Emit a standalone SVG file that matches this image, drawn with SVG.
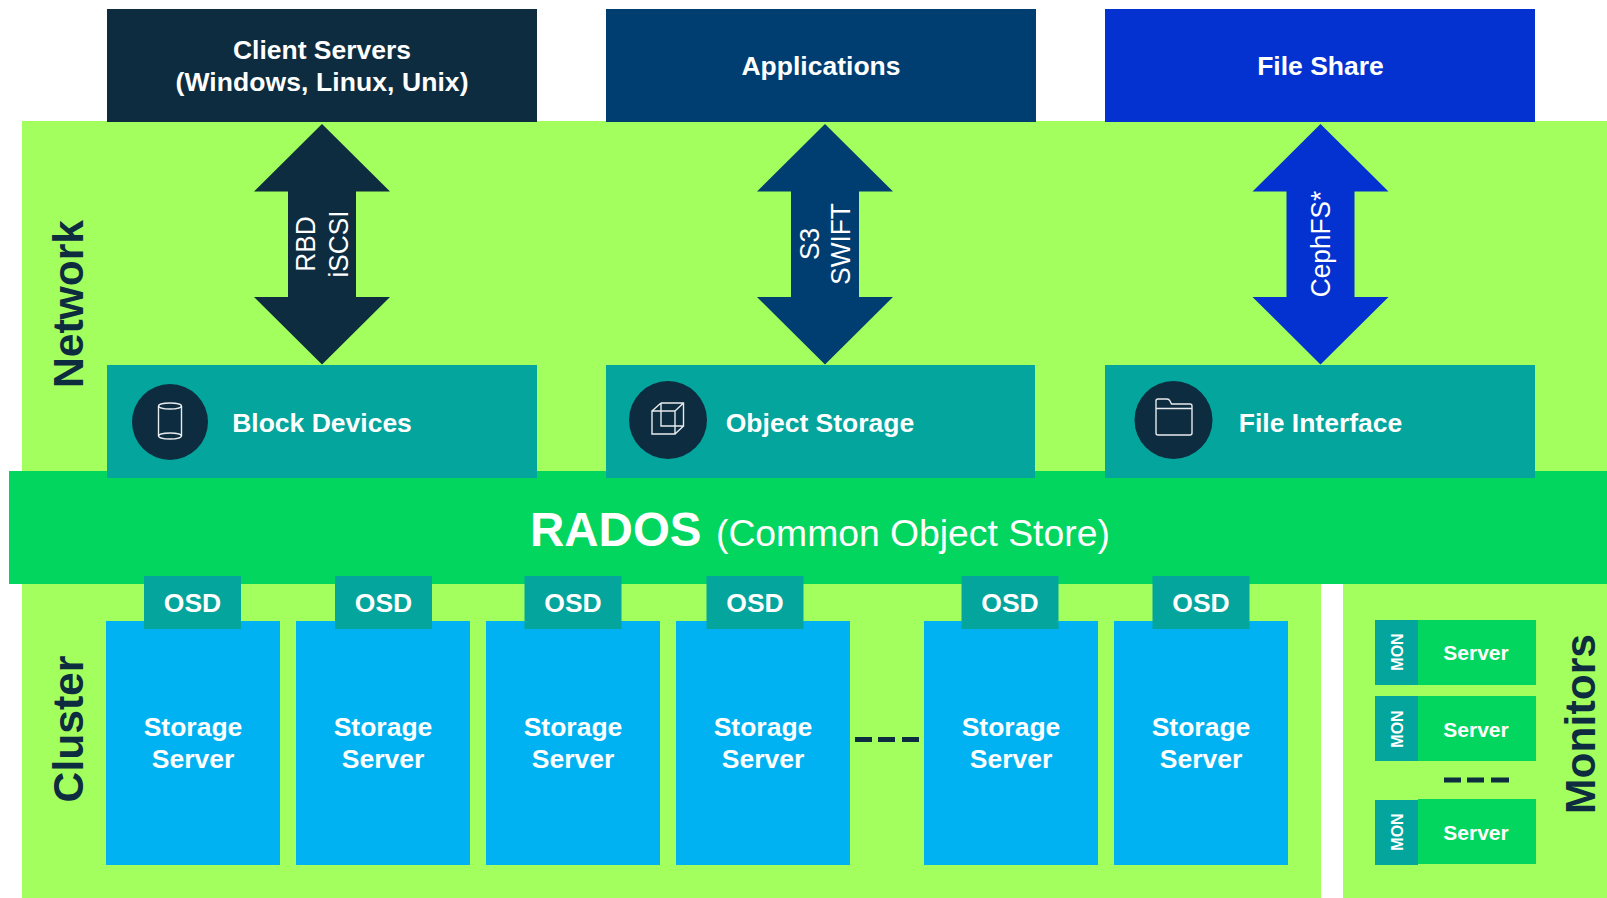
<svg xmlns="http://www.w3.org/2000/svg" width="1607" height="898" viewBox="0 0 1607 898">
<style>
text{font-family:"Liberation Sans",Arial,sans-serif;fill:#fff}
.b{font-weight:700}
.t{font-size:26.500px;font-weight:700;text-anchor:middle}
.side{font-size:42.600px;font-weight:700;fill:#0d2c40;text-anchor:middle}
.osd{fill:#03a59d}
.ss{fill:#00b2f2}
.srv{fill:#02d65e}
.ic{fill:none;stroke:#fff;stroke-width:1.400;stroke-opacity:.9}
.ctr{font-size:26.200px;text-anchor:middle}
.dash{stroke:#0d2c40;stroke-width:5;fill:none}
</style>
<defs>
<path id="arrow" d="M0 124L68 191.500H34V297H68L0 364.500L-68 297H-34V191.500H-68Z"/>
<g id="osdbox"><rect x="-48.500" y="576" width="97" height="53" class="osd"/><text class="t" y="612">OSD</text></g>
<g id="storage"><rect x="0" y="621" width="174" height="244" class="ss"/><text class="t" x="87" y="736">Storage</text><text class="t" x="87" y="768">Server</text></g>
</defs>
<g id="bands">
<rect x="22" y="121" width="1585" height="360" fill="#a2ff5d"/>
<rect x="22" y="580" width="1299" height="318" fill="#a2ff5d"/>
<rect x="1343" y="580" width="264" height="318" fill="#a2ff5d"/>
</g>
<g id="connectors">
<use href="#arrow" x="322" fill="#0d2c40"/>
<use href="#arrow" x="825" fill="#003e71"/>
<use href="#arrow" x="1320.500" fill="#0332d1"/>
</g>
<g id="client-servers"><rect x="107" y="9" width="430" height="113" fill="#0d2c40"/><text class="t" x="322" y="59">Client Servers</text><text class="t" x="322" y="91" textLength="293">(Windows, Linux, Unix)</text></g>
<g id="applications"><rect x="606" y="9" width="430" height="113" fill="#003e71"/><text class="t" x="821" y="75">Applications</text></g>
<g id="file-share"><rect x="1105" y="9" width="430" height="113" fill="#0332d1"/><text class="t" x="1320.500" y="75">File Share</text></g>
<g id="arrow-labels">
<text class="ctr" transform="translate(315 244) rotate(-90) scale(1 1.06)">RBD</text>
<text class="ctr" transform="translate(348 244) rotate(-90) scale(1 1.06)">iSCSI</text>
<text class="ctr" transform="translate(819 244) rotate(-90) scale(1 1.06)">S3</text>
<text class="ctr" transform="translate(850 244) rotate(-90) scale(1 1.06)">SWIFT</text>
<text class="ctr" transform="translate(1330 244) rotate(-90) scale(1 1.06)">CephFS*</text>
</g>
<g id="network-label"><text class="side" transform="translate(83 304) rotate(-90)">Network</text></g>
<g id="rados"><rect x="9" y="471" width="1598" height="113" fill="#02d65e"/>
<text x="530" y="546" font-size="47.500" font-weight="700">RADOS</text><text x="716" y="546" font-size="37.300">(Common Object Store)</text></g>
<g id="block-devices"><rect x="107" y="365" width="430" height="113" class="osd"/><circle cx="170" cy="422" r="38" fill="#0d2c40"/>
<g class="ic"><ellipse cx="170" cy="406" rx="11.500" ry="3"/><ellipse cx="170" cy="436" rx="11.500" ry="3"/><path d="M158.500 406V436M181.500 406V436"/></g>
<text class="t" x="322" y="432">Block Devices</text></g>
<g id="object-storage"><rect x="606" y="365" width="429" height="113" class="osd"/><circle cx="668" cy="420" r="39" fill="#0d2c40"/>
<g class="ic"><path d="M652 411H675V434H652ZM661 403H683.500V426H675M661 403V426H675M652 411L661 403M675 411L683.500 403M675 434L683.500 426"/></g>
<text class="t" x="820" y="432">Object Storage</text></g>
<g id="file-interface"><rect x="1105" y="365" width="430" height="113" class="osd"/><circle cx="1173.500" cy="420" r="39" fill="#0d2c40"/>
<g class="ic"><path d="M1156 433V401Q1156 399 1158 399H1167Q1169 399 1170 401L1171.500 404H1190Q1192 404 1192 406V433Q1192 435 1190 435H1158Q1156 435 1156 433ZM1156 408.500H1192"/></g>
<text class="t" x="1320.500" y="432">File Interface</text></g>
<g id="storage-servers">
<use href="#storage" x="106"/><use href="#storage" x="296"/><use href="#storage" x="486"/><use href="#storage" x="676"/><use href="#storage" x="924"/><use href="#storage" x="1114"/>
</g>
<g id="osds">
<use href="#osdbox" x="192.500"/><use href="#osdbox" x="383.500"/><use href="#osdbox" x="573"/><use href="#osdbox" x="755"/><use href="#osdbox" x="1010"/><use href="#osdbox" x="1201"/>
</g>
<path id="cluster-dash" class="dash" d="M855 739.500H872M878 739.500H895M902 739.500H919"/>
<g id="cluster-label"><text class="side" transform="translate(83 729) rotate(-90)">Cluster</text></g>
<g id="mon-1"><rect x="1418" y="620" width="118" height="65" class="srv"/><rect x="1375" y="620" width="43" height="65" class="osd"/><text class="b" font-size="16" text-anchor="middle" transform="translate(1403 652) rotate(-90)">MON</text><text class="b" font-size="21" text-anchor="middle" x="1476" y="660">Server</text></g>
<g id="mon-2"><rect x="1418" y="696" width="118" height="65" class="srv"/><rect x="1375" y="696" width="43" height="65" class="osd"/><text class="b" font-size="16" text-anchor="middle" transform="translate(1403 729) rotate(-90)">MON</text><text class="b" font-size="21" text-anchor="middle" x="1476" y="737">Server</text></g>
<g id="mon-3"><rect x="1418" y="799" width="118" height="65" class="srv"/><rect x="1375" y="800" width="43" height="65" class="osd"/><text class="b" font-size="16" text-anchor="middle" transform="translate(1403 832) rotate(-90)">MON</text><text class="b" font-size="21" text-anchor="middle" x="1476" y="840">Server</text></g>
<path id="mon-dash" class="dash" d="M1444 780H1461M1467 780H1484M1491 780H1509"/>
<g id="monitors-label"><text class="side" transform="translate(1595 724) rotate(-90)">Monitors</text></g>
</svg>
